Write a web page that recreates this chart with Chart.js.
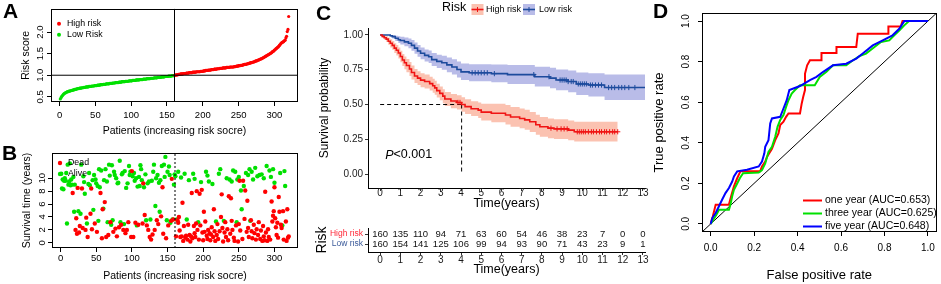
<!DOCTYPE html>
<html><head><meta charset="utf-8">
<script src="https://cdn.jsdelivr.net/npm/chart.js@4.4.1/dist/chart.umd.min.js"></script>
<style>
html,body{margin:0;padding:0;background:#fff;}
body{position:relative;width:941px;height:284px;overflow:hidden;}
canvas{position:absolute;}
.pl{position:absolute;font-family:'Liberation Sans',Arial,sans-serif;font-weight:bold;font-size:21px;line-height:21px;color:#000;}
</style></head><body>
<canvas id="cD" width="296" height="284" style="left:645px;top:0px"></canvas>
<canvas id="cT" width="350" height="74" style="left:300px;top:210px"></canvas>
<canvas id="cC" width="350" height="212" style="left:300px;top:0px"></canvas>
<canvas id="cA" width="294" height="140" style="left:8px;top:3px"></canvas>
<canvas id="cB" width="294" height="138" style="left:8px;top:146px"></canvas>
<div class="pl" style="left:3px;top:0px">A</div>
<div class="pl" style="left:2px;top:142px">B</div>
<div class="pl" style="left:316px;top:2px">C</div>
<div class="pl" style="left:653px;top:0px">D</div>
<script>
// ================= DATA =================
// Panel A: sorted risk scores of 320 patients (first 160 = low risk)
const riskScore = [
0.45,0.48,0.51,0.53,0.55,0.57,0.58,0.59,0.60,0.61,
0.62,0.62,0.63,0.63,0.64,0.64,0.65,0.65,0.66,0.66,
0.67,0.67,0.68,0.68,0.69,0.69,0.69,0.70,0.70,0.70,
0.71,0.71,0.71,0.72,0.72,0.72,0.73,0.73,0.73,0.73,
0.74,0.74,0.74,0.74,0.75,0.75,0.75,0.75,0.76,0.76,
0.76,0.76,0.77,0.77,0.77,0.77,0.78,0.78,0.78,0.78,
0.79,0.79,0.79,0.79,0.80,0.80,0.80,0.80,0.80,0.81,
0.81,0.81,0.81,0.82,0.82,0.82,0.82,0.83,0.83,0.83,
0.83,0.83,0.84,0.84,0.84,0.84,0.85,0.85,0.85,0.85,
0.85,0.86,0.86,0.86,0.86,0.86,0.87,0.87,0.87,0.87,
0.87,0.88,0.88,0.88,0.88,0.88,0.89,0.89,0.89,0.89,
0.89,0.90,0.90,0.90,0.90,0.90,0.91,0.91,0.91,0.91,
0.91,0.92,0.92,0.92,0.92,0.92,0.93,0.93,0.93,0.93,
0.93,0.94,0.94,0.94,0.94,0.94,0.95,0.95,0.95,0.95,
0.95,0.96,0.96,0.96,0.96,0.96,0.97,0.97,0.97,0.97,
0.97,0.98,0.98,0.98,0.98,0.98,0.99,0.99,0.99,0.99,
1.00,1.00,1.01,1.01,1.01,1.02,1.02,1.02,1.03,1.03,
1.03,1.03,1.04,1.04,1.04,1.04,1.05,1.05,1.05,1.05,
1.06,1.06,1.06,1.06,1.06,1.07,1.07,1.07,1.07,1.07,
1.08,1.08,1.08,1.08,1.08,1.08,1.09,1.09,1.09,1.09,
1.10,1.10,1.10,1.11,1.11,1.11,1.11,1.12,1.12,1.12,
1.12,1.13,1.13,1.13,1.13,1.14,1.14,1.14,1.14,1.15,
1.15,1.15,1.15,1.16,1.16,1.16,1.16,1.17,1.17,1.17,
1.17,1.17,1.18,1.18,1.18,1.18,1.18,1.19,1.19,1.19,
1.19,1.19,1.19,1.20,1.20,1.20,1.21,1.21,1.21,1.22,
1.22,1.22,1.23,1.23,1.23,1.24,1.24,1.25,1.25,1.25,
1.26,1.26,1.27,1.27,1.28,1.28,1.29,1.29,1.30,1.30,
1.31,1.31,1.32,1.33,1.33,1.34,1.35,1.35,1.36,1.37,
1.38,1.38,1.39,1.40,1.41,1.42,1.43,1.44,1.45,1.46,
1.47,1.48,1.49,1.50,1.51,1.52,1.54,1.55,1.56,1.58,
1.59,1.61,1.62,1.64,1.65,1.67,1.69,1.71,1.73,1.75,
1.76,1.77,1.78,1.80,1.81,1.86,1.90,2.01,2.06,2.36];
const lowRiskCount = 160;
const riskCutoffPatient = 160.5;
const riskCutoffScore = 1.0;
const riskLegend = ['High risk', 'Low Risk'];
const patientTicks = [0, 50, 100, 150, 200, 250, 300];
const riskScoreTicks = [0.5, 1.0, 1.5, 2.0];

// Panel B: [patient index, survival time in years]
const deadPatients = [
[17,7.7],[24,8.5],[30,8.4],[43,8.4],[56,7.7],[62,6.3],[59,5.2],[100,11.1],[116,9.2],[143,8.6],[156,9.9],
[22,3.8],[21,2.0],[23,1.4],[27,2.6],[31,2.3],[35,2.0],[38,0.9],[42,4.5],[36,3.9],[44,2.1],[51,1.7],[58,0.7],
[64,0.9],[70,3.2],[74,1.7],[77,2.2],[79,1.0],[82,2.4],[85,2.8],[88,2.0],[93,2.0],[95,3.2],[99,0.9],[102,0.9],
[105,3.1],[109,2.8],[115,3.0],[118,4.3],[121,2.7],[123,2.0],[125,0.9],[127,0.5],[129,1.3],[132,2.0],[135,3.5],
[137,2.9],[141,4.1],[144,1.4],[148,0.7],[151,2.7],[155,3.4],[158,3.6],[26,1.6],[48,3.0],[67,1.2],[91,1.5],
[171,6.2],[184,7.7],[191,8.0],[195,7.6],[198,8.2],[226,7.5],[236,7.2],[239,6.9],[251,9.6],[256,9.6],[262,6.5],
[287,7.9],[296,6.4],[306,7.1],[259,8.1],[201,4.8],[215,5.2],[307,4.8],[318,5.2],[299,4.9],[312,4.9],[300,8.6],
[164,3.5],[166,4.0],
[162,1.0],[165,3.1],[167,1.9],[168,0.9],[170,1.0],[172,0.3],[173,2.6],[175,0.8],[176,1.1],[178,0.5],[179,2.8],
[181,1.2],[182,0.2],[183,1.0],[185,0.7],[187,2.6],[188,1.5],[189,0.9],[190,3.0],[192,2.0],[194,0.5],[196,2.7],
[199,1.6],[200,0.4],[202,1.7],[203,3.3],[205,1.1],[206,0.6],[207,2.0],[209,1.5],[210,0.4],[211,1.3],[212,2.4],
[214,0.9],[216,1.8],[217,0.3],[219,1.2],[220,2.9],[221,0.6],[223,1.8],[225,4.0],[227,2.3],[228,0.2],[230,1.6],
[231,3.2],[232,0.9],[234,2.1],[235,0.4],[238,1.4],[240,3.4],[241,2.0],[243,0.8],[244,0.3],[246,2.7],[249,0.2],
[250,2.9],[252,1.9],[255,0.6],[258,3.7],[261,1.7],[263,2.3],[264,0.9],[267,3.5],[268,1.8],[269,0.7],[271,2.8],
[272,1.5],[274,0.5],[275,2.1],[277,1.2],[278,3.2],[280,0.6],[281,1.9],[283,0.3],[284,2.6],[285,1.0],[286,0.4],
[288,1.6],[290,0.3],[291,2.1],[292,0.9],[294,0.5],[297,3.3],[298,4.2],[301,3.8],[302,2.4],[303,1.2],[304,3.1],
[305,0.8],[309,2.8],[310,2.3],[313,0.5],[316,3.3],[317,0.3],[319,0.8],[320,1.0]];
const alivePatients = [
[9,3.0],[19,4.8],[25,4.9],[28,4.5],[37,3.0],[46,5.1],[53,3.4],[60,5.3],[66,3.2],[71,2.8],[73,3.5],[84,3.2],
[89,2.9],[107,2.7],[120,3.5],[126,3.6],[133,5.7],[139,4.8],[149,3.5],[154,3.1],[157,3.6],
[1,10.7],[2,8.4],[3,9.8],[4,8.3],[5,9.6],[6,10.0],[7,9.6],[8,10.8],[10,12.1],[11,9.0],[12,9.5],[13,12.3],
[14,8.9],[15,9.8],[16,9.0],[18,10.2],[20,9.0],[29,12.1],[32,10.3],[33,9.4],[34,7.6],[39,9.1],[40,10.8],
[41,8.9],[45,9.7],[47,10.5],[49,9.8],[50,9.2],[52,8.8],[54,11.4],[55,8.6],[57,11.2],[61,9.7],[63,11.4],
[65,9.5],[68,12.1],[69,10.4],[72,12.0],[75,11.0],[76,10.5],[78,10.0],[80,9.2],[81,9.3],[83,12.7],[86,10.6],
[87,10.8],[90,11.1],[92,8.5],[94,9.2],[96,11.9],[97,10.5],[98,11.0],[101,10.3],[103,10.8],[104,9.6],[106,10.0],
[108,8.7],[110,10.2],[111,8.8],[112,12.0],[113,11.4],[114,9.7],[117,8.6],[119,10.6],[122,9.2],[124,9.5],
[128,9.6],[130,11.0],[131,12.1],[134,10.0],[136,10.5],[138,9.3],[140,9.7],[142,11.9],[145,12.1],[146,10.2],
[147,13.3],[150,11.0],[152,11.8],[153,10.5],[159,9.0],[160,10.6],
[161,10.3],[165,11.0],[163,3.6],[169,10.1],[174,10.7],[177,3.6],[180,9.7],[186,10.7],[188,9.9],[193,3.2],
[197,9.4],[204,11.0],[206,10.4],[208,9.5],[213,9.1],[218,3.3],[222,10.7],[224,11.4],[229,3.4],[233,10.0],
[237,9.8],[240,9.5],[242,11.2],[245,11.0],[247,3.2],[248,9.8],[250,10.2],[253,8.1],[254,5.2],[257,8.8],
[260,10.8],[263,10.5],[265,11.4],[266,3.4],[268,11.0],[270,9.8],[273,11.6],[276,10.3],[279,10.5],[282,10.6],
[285,10.0],[289,11.9],[293,11.2],[295,10.2],[298,11.4],[300,9.3],[308,10.8],[311,2.7],[314,11.1],[315,8.8]];
const survTimeTicks = [0, 2, 4, 6, 8, 10];
const statusLegend = ['Dead', 'Alive'];

// Panel C: Kaplan-Meier estimates (time in years, survival probability, 95% CI)
const highTimes = [0,0.1,0.2,0.3,0.4,0.5,0.6,0.7,0.8,0.9,1.0,1.1,1.2,1.3,1.45,1.55,1.7,1.85,2.0,2.2,2.45,2.6,2.7,2.8,2.95,3.1,3.2,3.5,3.8,4.03,4.2,4.5,4.85,5.0,5.5,6.2,6.45,6.9,7.15,7.4,7.7,7.9,8.3,8.6,9.3,9.6,11.75];
const highSurv  = [1,0.99,0.98,0.97,0.955,0.94,0.925,0.905,0.89,0.87,0.845,0.82,0.80,0.78,0.755,0.73,0.705,0.69,0.675,0.665,0.65,0.635,0.62,0.60,0.58,0.56,0.54,0.525,0.515,0.50,0.485,0.47,0.46,0.445,0.437,0.425,0.41,0.40,0.39,0.376,0.355,0.34,0.33,0.325,0.316,0.304,0.304];
const highUpper = [1,1.0,0.995,0.99,0.98,0.97,0.957,0.94,0.927,0.91,0.887,0.864,0.846,0.828,0.805,0.78,0.755,0.74,0.725,0.715,0.70,0.685,0.67,0.65,0.63,0.61,0.59,0.576,0.566,0.552,0.538,0.523,0.514,0.505,0.505,0.497,0.482,0.472,0.462,0.447,0.426,0.41,0.40,0.395,0.386,0.376,0.376];
const highLower = [1,0.98,0.965,0.95,0.93,0.91,0.893,0.87,0.853,0.83,0.803,0.776,0.754,0.732,0.705,0.68,0.655,0.64,0.625,0.615,0.60,0.585,0.57,0.55,0.53,0.51,0.49,0.474,0.464,0.448,0.432,0.417,0.403,0.385,0.372,0.357,0.34,0.33,0.318,0.303,0.283,0.268,0.258,0.252,0.244,0.234,0.234];
const lowTimes  = [0,0.5,0.6,0.75,0.9,1.0,1.2,1.4,1.55,1.7,1.85,2.0,2.2,2.4,2.55,2.8,3.05,3.3,3.55,3.8,4.0,4.4,5.5,6.3,7.65,8.4,8.7,9.3,9.7,10.3,11.1,13.1];
const lowSurv   = [1,0.994,0.988,0.976,0.966,0.96,0.95,0.94,0.925,0.905,0.885,0.868,0.853,0.843,0.823,0.81,0.80,0.785,0.77,0.752,0.735,0.728,0.722,0.715,0.70,0.69,0.676,0.665,0.648,0.64,0.622,0.622];
const lowUpper  = [1,1.0,1.0,0.995,0.99,0.988,0.982,0.975,0.963,0.945,0.927,0.91,0.896,0.888,0.87,0.858,0.85,0.838,0.825,0.81,0.795,0.79,0.788,0.784,0.772,0.764,0.752,0.744,0.73,0.725,0.715,0.715];
const lowLower  = [1,0.985,0.975,0.957,0.942,0.932,0.918,0.905,0.887,0.865,0.843,0.826,0.81,0.798,0.776,0.762,0.75,0.732,0.715,0.695,0.676,0.667,0.66,0.648,0.63,0.617,0.602,0.588,0.568,0.557,0.532,0.532];
const highCensor = [3.85,3.95,8.45,8.75,8.95,9.1,9.25,9.75,9.85,9.95,10.05,10.15,10.3,10.45,10.55,10.7,10.85,10.95,11.1,11.2,11.35,11.5,11.6,11.75];
const lowCensor  = [4.55,4.7,4.85,5.0,5.15,5.3,5.65,7.6,8.35,8.9,9.0,9.1,9.2,9.3,9.45,9.55,9.8,9.9,10.0,10.1,10.2,10.4,10.5,10.65,10.8,10.95,11.3,11.45,11.6,11.8,11.95,12.1,12.3,12.6];
const medianSurvTime = 4.03;
const medianLevel = 0.5;
const kmTimeTicks = [0,1,2,3,4,5,6,7,8,9,10,11,12,13];
const kmSurvTicks = [0, 0.25, 0.5, 0.75, 1];
const riskGroups = ['High risk', 'Low risk'];
const riskTableTimes = [0,1,2,3,4,5,6,7,8,9,10,11,12,13];
const highAtRisk = [160,135,110,94,71,63,60,54,46,38,23,7,0,0];
const lowAtRisk  = [160,154,141,125,106,99,94,93,90,71,43,23,9,1];
const pValueText = ['P', '<0.001'];

// Panel D: time-dependent ROC curves
const roc1Fpr = [0,0.005,0.01,0.015,0.023,0.084,0.095,0.107,0.122,0.137,0.228,0.236,0.251,0.259,0.282,0.297,0.312,0.32,0.335,0.347,0.358,0.411,0.419,0.426,0.434,0.434,0.444,0.457,0.51,0.51,0.579,0.579,0.67,0.677,0.818,0.818,0.875,0.883,1.0];
const roc1Tpr = [0,0.02,0.038,0.06,0.095,0.095,0.14,0.185,0.225,0.26,0.26,0.283,0.307,0.33,0.37,0.413,0.446,0.488,0.504,0.528,0.545,0.545,0.594,0.627,0.66,0.74,0.782,0.807,0.807,0.843,0.843,0.872,0.872,0.938,0.938,0.974,0.974,1.0,1.0];
const roc3Fpr = [0,0.008,0.027,0.038,0.084,0.091,0.099,0.107,0.119,0.134,0.149,0.221,0.236,0.251,0.266,0.282,0.297,0.308,0.32,0.335,0.347,0.358,0.373,0.388,0.411,0.479,0.502,0.533,0.563,0.624,0.655,0.685,0.715,0.754,0.784,0.822,0.845,0.868,0.891,0.913,1.0];
const roc3Tpr = [0,0.013,0.046,0.07,0.07,0.095,0.136,0.168,0.193,0.225,0.25,0.253,0.265,0.298,0.355,0.38,0.43,0.48,0.512,0.537,0.577,0.61,0.643,0.66,0.684,0.684,0.725,0.75,0.782,0.782,0.807,0.827,0.84,0.872,0.897,0.905,0.93,0.954,0.979,1.0,1.0];
const roc5Fpr = [0,0.008,0.023,0.038,0.053,0.068,0.084,0.099,0.107,0.122,0.167,0.221,0.236,0.247,0.251,0.266,0.274,0.282,0.32,0.335,0.35,0.362,0.411,0.457,0.487,0.518,0.563,0.624,0.67,0.7,0.746,0.792,0.837,0.868,0.891,1.0];
const roc5Tpr = [0,0.03,0.054,0.087,0.12,0.152,0.177,0.209,0.234,0.259,0.267,0.283,0.307,0.348,0.38,0.413,0.495,0.52,0.528,0.569,0.61,0.66,0.68,0.709,0.725,0.75,0.782,0.79,0.815,0.84,0.88,0.905,0.93,0.962,1.0,1.0];
const rocLabels = ['one year (AUC=0.653)', 'three year (AUC=0.625)', 'five year (AUC=0.648)'];
const rateTicks = [0, 0.2, 0.4, 0.6, 0.8, 1.0];

// ================= STYLE / HELPERS =================
const FONT = "'Liberation Sans', Arial, Helvetica, sans-serif";
const RED = '#ff0000', GREEN = '#00e000', BLUE = '#0000ff';
const KM_RED = '#f01414', KM_BLUE = '#1d4b9d';
const BAND_RED = 'rgba(245,110,70,0.42)', BAND_BLUE = 'rgba(60,70,190,0.36)';
const TBL_RED = '#ff2a3a', TBL_BLUE = '#3a5a9a';

function baseOpts(pad, scales) {
  return {
    responsive: false, animation: false, events: [],
    layout: { padding: pad, autoPadding: false },
    plugins: { legend: { display: false }, tooltip: { enabled: false } },
    scales
  };
}
function axis(o) {
  return {
    type: 'linear', position: o.pos, min: o.min, max: o.max, reverse: !!o.reverse,
    afterBuildTicks: s => { s.ticks = o.ticks.map(v => ({ value: v })); },
    afterFit: s => { if (o.pos === 'left') s.width = o.size; else s.height = o.size; },
    grid: { display: true, drawOnChartArea: false, drawTicks: true, tickLength: o.tl, color: o.tc || '#000', lineWidth: 1 },
    border: { display: !!o.border, color: '#000', width: 1 },
    ticks: {
      autoSkip: false, font: { family: FONT, size: o.fs }, color: o.lc || '#000', padding: o.pad,
      minRotation: o.rot || 0, maxRotation: o.rot || 0, crossAlign: o.rot ? 'center' : 'near',
      callback: (v, i) => o.fmt(v, i)
    },
    title: { display: !!o.title, text: o.title, font: { family: FONT, size: o.tfs }, color: '#000',
      padding: o.pos === 'left' ? { top: o.tpad, bottom: 0 } : { top: 0, bottom: o.tpad } }
  };
}
const boxPlugin = { id: 'rbox', afterDatasetsDraw(c) {
  const a = c.chartArea, ctx = c.ctx; ctx.save(); ctx.strokeStyle = '#000'; ctx.lineWidth = 1;
  ctx.strokeRect(Math.round(a.left) + 0.5, Math.round(a.top) + 0.5, Math.round(a.right - a.left) - 1, Math.round(a.bottom - a.top) - 1);
  ctx.restore(); } };
function dotLegend(labels, colors, dy0, step, r) {
  return { id: 'dotleg', afterDraw(c) {
    const ctx = c.ctx, a = c.chartArea; ctx.save(); ctx.font = '8.8px ' + FONT; ctx.textBaseline = 'middle';
    labels.forEach((lab, i) => { const y = a.top + dy0 + i * step;
      ctx.fillStyle = colors[i]; ctx.beginPath(); ctx.arc(a.left + 8, y, r, 0, Math.PI * 2); ctx.fill();
      ctx.fillStyle = '#000'; ctx.fillText(lab, a.left + 16, y); });
    ctx.restore(); } };
}
const pairs = (xs, ys) => xs.map((x, i) => ({ x: x, y: ys[i] }));
const survAt = (ts, ss, t) => { let s = ss[0]; for (let i = 0; i < ts.length; i++) if (ts[i] <= t) s = ss[i]; return s; };

// ================= PANEL A =================
const A_X = [-12, 333], A_Y = [0.38, 2.54];
new Chart(document.getElementById('cA'), {
  type: 'scatter',
  data: { datasets: [
    { data: [{ x: riskCutoffPatient, y: A_Y[0] }, { x: riskCutoffPatient, y: A_Y[1] }], showLine: true, borderColor: '#000', borderWidth: 1, pointRadius: 0 },
    { data: [{ x: A_X[0], y: riskCutoffScore }, { x: A_X[1], y: riskCutoffScore }], showLine: true, borderColor: '#000', borderWidth: 1, pointRadius: 0 },
    { data: riskScore.slice(lowRiskCount).map((v, i) => ({ x: i + lowRiskCount + 1, y: v })), backgroundColor: RED, borderWidth: 0, pointRadius: 1.6 },
    { data: riskScore.slice(0, lowRiskCount).map((v, i) => ({ x: i + 1, y: v })), backgroundColor: GREEN, borderWidth: 0, pointRadius: 1.6 }
  ] },
  options: baseOpts({ top: 2, right: 4, left: 0, bottom: 0 }, {
    x: axis({ pos: 'bottom', min: A_X[0], max: A_X[1], ticks: patientTicks, size: 41, tl: 4, fs: 9.5, pad: 3.3, fmt: v => String(v), title: 'Patients (increasing risk socre)', tfs: 10.5, tpad: 5.7 }),
    y: axis({ pos: 'left', min: A_Y[0], max: A_Y[1], ticks: riskScoreTicks, size: 43, tl: 4, fs: 9.5, pad: 0, rot: 90, fmt: v => v.toFixed(1), title: 'Risk score', tfs: 10.5, tpad: 11.7 })
  }),
  plugins: [boxPlugin, dotLegend(riskLegend, [RED, GREEN], 15, 11, 2)]
});

// ================= PANEL B =================
const B_Y = [-0.8, 13.9];
new Chart(document.getElementById('cB'), {
  type: 'scatter',
  data: { datasets: [
    { data: [{ x: riskCutoffPatient, y: B_Y[0] }, { x: riskCutoffPatient, y: B_Y[1] }], showLine: true, borderColor: '#000', borderWidth: 1, borderDash: [2, 2], pointRadius: 0 },
    { data: deadPatients.map(p => ({ x: p[0], y: p[1] })), backgroundColor: RED, borderWidth: 0, pointRadius: 2.2 },
    { data: alivePatients.map(p => ({ x: p[0], y: p[1] })), backgroundColor: GREEN, borderWidth: 0, pointRadius: 2.2 }
  ] },
  options: baseOpts({ top: 7, right: 4, left: 0, bottom: 0 }, {
    x: axis({ pos: 'bottom', min: A_X[0], max: A_X[1], ticks: patientTicks, size: 36, tl: 4, fs: 9.5, pad: 0.3, fmt: v => String(v), title: 'Patients (increasing risk socre)', tfs: 10.5, tpad: 1.7 }),
    y: axis({ pos: 'left', min: B_Y[0], max: B_Y[1], ticks: survTimeTicks, size: 44, tl: 4, fs: 9.5, pad: 0, rot: 90, fmt: v => String(v), title: 'Survival time (years)', tfs: 10.5, tpad: 12.7 })
  }),
  plugins: [boxPlugin, dotLegend(statusLegend, [RED, GREEN], 10, 11, 2.2)]
});

// ================= PANEL C (KM) =================
const C_X = [-0.6, 13.1], C_Y = [-0.10, 1.05];
const pTextAt = [0.25, 0.137];
const kmLegend = { id: 'kmleg', afterDraw(c) {
  const ctx = c.ctx; ctx.save(); ctx.textBaseline = 'middle'; ctx.fillStyle = '#000';
  ctx.font = '12.5px ' + FONT; ctx.fillText('Risk', 142, 8);
  const keys = [[171.5, KM_RED, BAND_RED, riskGroups[0], 186], [223, KM_BLUE, BAND_BLUE, riskGroups[1], 239]];
  keys.forEach(k => {
    ctx.fillStyle = k[2]; ctx.fillRect(k[0], 4, 12, 11);
    ctx.strokeStyle = k[1]; ctx.lineWidth = 1.6; ctx.beginPath(); ctx.moveTo(k[0], 9.5); ctx.lineTo(k[0] + 12, 9.5); ctx.stroke();
    ctx.lineWidth = 1; ctx.beginPath(); ctx.moveTo(k[0] + 6, 7); ctx.lineTo(k[0] + 6, 12); ctx.stroke();
    ctx.fillStyle = '#000'; ctx.font = '9px ' + FONT; ctx.fillText(k[3], k[4], 9.5);
  });
  const xs = c.scales.x, ys = c.scales.y;
  const px = xs.getPixelForValue(pTextAt[0]), py = ys.getPixelForValue(pTextAt[1]);
  ctx.font = 'italic 12.5px ' + FONT; ctx.fillText(pValueText[0], px, py);
  const w = ctx.measureText(pValueText[0]).width;
  ctx.font = '12.5px ' + FONT; ctx.fillText(pValueText[1], px + w, py);
  ctx.restore(); } };
const lineDs = (d, col) => ({ data: d, borderColor: col, borderWidth: 1.6, stepped: true, pointRadius: 0, fill: false });
const bandDs = (d, fillTo, col) => ({ data: d, borderColor: 'transparent', borderWidth: 0, stepped: true, pointRadius: 0, fill: fillTo, backgroundColor: col });
new Chart(document.getElementById('cC'), {
  type: 'line',
  data: { datasets: [
    lineDs(pairs(highTimes, highSurv), KM_RED),
    lineDs(pairs(lowTimes, lowSurv), KM_BLUE),
    { data: highCensor.map(t => ({ x: t, y: survAt(highTimes, highSurv, t) })), showLine: false, pointStyle: 'cross', pointRadius: 2.6, pointBorderColor: KM_RED, pointBorderWidth: 1, borderColor: KM_RED },
    { data: lowCensor.map(t => ({ x: t, y: survAt(lowTimes, lowSurv, t) })), showLine: false, pointStyle: 'cross', pointRadius: 2.6, pointBorderColor: KM_BLUE, pointBorderWidth: 1, borderColor: KM_BLUE },
    { data: [{ x: 0, y: medianLevel }, { x: medianSurvTime, y: medianLevel }], borderColor: '#000', borderWidth: 1, borderDash: [4, 3], pointRadius: 0 },
    { data: [{ x: medianSurvTime, y: medianLevel }, { x: medianSurvTime, y: 0 }], borderColor: '#000', borderWidth: 1, borderDash: [4, 3], pointRadius: 0 },
    bandDs(pairs(highTimes, highUpper), false, BAND_RED),
    bandDs(pairs(highTimes, highLower), '-1', BAND_RED),
    bandDs(pairs(lowTimes, lowUpper), false, BAND_BLUE),
    bandDs(pairs(lowTimes, lowLower), '-1', BAND_BLUE)
  ] },
  options: baseOpts({ top: 28, right: 5, left: 0, bottom: 0 }, {
    x: axis({ pos: 'bottom', min: C_X[0], max: C_X[1], ticks: kmTimeTicks, size: 24, tl: 3, tc: '#333', border: true, fs: 10, lc: '#1a1a1a', pad: -4, fmt: v => String(v), title: 'Time(years)', tfs: 12.5, tpad: 0.5 }),
    y: axis({ pos: 'left', min: C_Y[0], max: C_Y[1], ticks: kmSurvTicks, size: 68, tl: 3, tc: '#333', border: true, fs: 10, lc: '#1a1a1a', pad: 2, fmt: v => v.toFixed(2), title: 'Survival probability', tfs: 12, tpad: 17.8 })
  }),
  plugins: [kmLegend]
});

// ================= PANEL C (risk table) =================
const tablePlugin = { id: 'tbl', afterDraw(c) {
  const ctx = c.ctx, xs = c.scales.x, ys = c.scales.y; ctx.save();
  ctx.font = '9.5px ' + FONT; ctx.fillStyle = '#111'; ctx.textAlign = 'center'; ctx.textBaseline = 'middle';
  [highAtRisk, lowAtRisk].forEach((row, r) => row.forEach((n, i) =>
    ctx.fillText(String(n), xs.getPixelForValue(riskTableTimes[i]), ys.getPixelForValue(r + 1))));
  ctx.restore(); } };
new Chart(document.getElementById('cT'), {
  type: 'scatter',
  data: { datasets: [
    { data: riskTableTimes.map((t, i) => ({ x: t, y: 1 })), pointRadius: 0 },
    { data: riskTableTimes.map((t, i) => ({ x: t, y: 2 })), pointRadius: 0 }
  ] },
  options: baseOpts({ top: 18, right: 5, left: 0, bottom: 0 }, {
    x: axis({ pos: 'bottom', min: C_X[0], max: C_X[1], ticks: kmTimeTicks, size: 32, tl: 3, tc: '#333', border: true, fs: 10, lc: '#1a1a1a', pad: -1, fmt: v => String(v), title: 'Time(years)', tfs: 12.5, tpad: 6.5 }),
    y: axis({ pos: 'left', min: 0.4, max: 2.8, reverse: true, ticks: riskGroups.map((g, i) => i + 1), size: 68, tl: 3, tc: '#333', border: true, fs: 8.5,
      lc: ctx => [TBL_RED, TBL_BLUE][ctx.index], pad: 2, fmt: v => riskGroups[v - 1], title: 'Risk', tfs: 14, tpad: 13.6 })
  }),
  plugins: [tablePlugin]
});

// ================= PANEL D =================
const D_R = [-0.04, 1.04];
const rocColors = [RED, GREEN, BLUE];
const rocLegend = { id: 'rocleg', afterDraw(c) {
  const ctx = c.ctx; ctx.save(); ctx.textBaseline = 'middle'; ctx.font = '10.5px ' + FONT;
  rocLabels.forEach((lab, i) => { const y = 200.5 + i * 13;
    ctx.strokeStyle = rocColors[i]; ctx.lineWidth = 2; ctx.beginPath(); ctx.moveTo(158, y); ctx.lineTo(177, y); ctx.stroke();
    ctx.fillStyle = '#000'; ctx.fillText(lab, 180, y); });
  ctx.restore(); } };
const rocDs = (f, t, col) => ({ data: pairs(f, t), showLine: true, borderColor: col, borderWidth: 2, pointRadius: 0 });
new Chart(document.getElementById('cD'), {
  type: 'scatter',
  data: { datasets: [
    rocDs(roc5Fpr, roc5Tpr, BLUE),
    rocDs(roc3Fpr, roc3Tpr, GREEN),
    rocDs(roc1Fpr, roc1Tpr, RED),
    { data: [{ x: D_R[0], y: D_R[0] }, { x: D_R[1], y: D_R[1] }], showLine: true, borderColor: '#000', borderWidth: 1, pointRadius: 0 }
  ] },
  options: baseOpts({ top: 13, right: 3, left: 0, bottom: 0 }, {
    x: axis({ pos: 'bottom', min: D_R[0], max: D_R[1], ticks: rateTicks, size: 52, tl: 4, fs: 10, pad: 6, fmt: v => v.toFixed(1), title: 'False positive rate', tfs: 13, tpad: 1.2 }),
    y: axis({ pos: 'left', min: D_R[0], max: D_R[1], ticks: rateTicks, size: 57, tl: 4, fs: 10, pad: 5, rot: 90, fmt: v => v.toFixed(1), title: 'True positive rate', tfs: 13, tpad: 6.2 })
  }),
  plugins: [boxPlugin, rocLegend]
});
</script></body></html>
